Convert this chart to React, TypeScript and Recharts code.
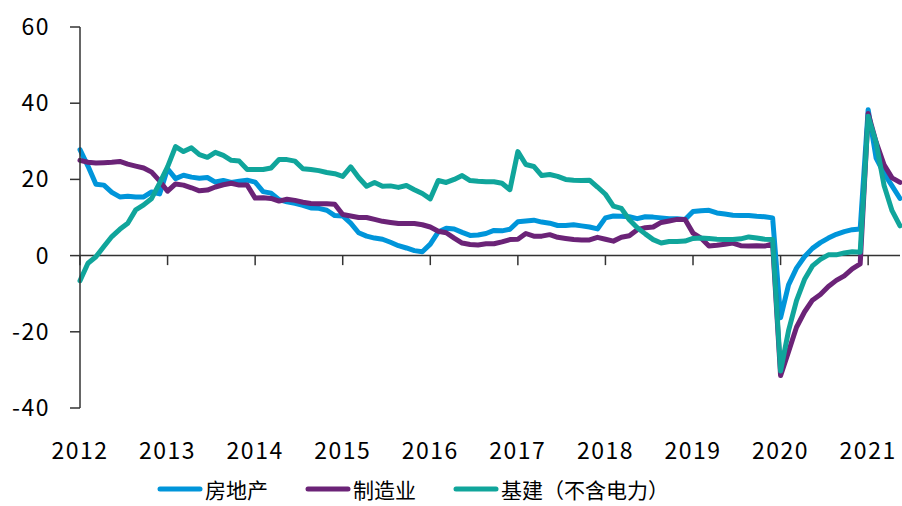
import React from "react";
import { LineChart, Line, XAxis, YAxis, ReferenceLine, Legend } from "recharts";

// cumulative yoy, Feb..Dec each year (Jan merged into Feb), 2012-02 .. 2021-06
const years = ["2012", "2013", "2014", "2015", "2016", "2017", "2018", "2019", "2020", "2021"];

const realEstate = [
  27.8, 23.5, 18.7, 18.5, 16.6, 15.4, 15.6, 15.4, 15.4, 16.7, 16.2,
  22.8, 20.2, 21.1, 20.6, 20.3, 20.5, 19.3, 19.7, 19.2, 19.5, 19.8,
  19.3, 16.8, 16.4, 14.7, 14.1, 13.7, 13.2, 12.5, 12.4, 11.9, 10.5,
  10.4, 8.5, 6.0, 5.1, 4.6, 4.3, 3.5, 2.6, 2.0, 1.3, 1.0,
  3.0, 6.2, 7.2, 7.0, 6.1, 5.3, 5.4, 5.8, 6.6, 6.5, 6.9,
  8.9, 9.1, 9.3, 8.8, 8.5, 7.9, 7.9, 8.1, 7.8, 7.5, 7.0,
  9.9, 10.4, 10.3, 10.2, 9.7, 10.2, 10.1, 9.9, 9.7, 9.7, 9.5,
  11.6, 11.8, 11.9, 11.2, 10.9, 10.6, 10.5, 10.5, 10.3, 10.2, 9.9,
  -16.3, -7.7, -3.3, -0.3, 1.9, 3.4, 4.6, 5.6, 6.3, 6.8, 7.0,
  38.3, 25.6, 21.6, 18.3, 15.0,
];

const manufacturing = [
  25.0, 24.5, 24.3, 24.4, 24.5, 24.7, 24.0, 23.5, 23.0, 21.9, 19.6,
  16.9, 18.8, 18.5, 17.8, 17.0, 17.2, 18.0, 18.6, 19.0, 18.5, 18.5,
  15.1, 15.2, 15.0, 14.3, 14.8, 14.5, 14.0, 13.7, 13.6, 13.6, 13.5,
  10.8, 10.4, 10.0, 10.0, 9.5, 9.0, 8.7, 8.4, 8.4, 8.4, 8.1,
  7.5, 6.4, 6.0, 4.6, 3.3, 2.9, 2.8, 3.1, 3.1, 3.6, 4.2,
  4.3, 5.8, 5.1, 5.1, 5.5, 4.8, 4.5, 4.2, 4.1, 4.1, 4.8,
  4.3, 3.8, 4.8, 5.2, 6.8, 7.3, 7.5, 8.7, 9.1, 9.5, 9.5,
  5.9, 4.6, 2.5, 2.7, 3.0, 3.3, 2.6, 2.5, 2.6, 2.5, 3.1,
  -31.5, -25.2, -18.8, -14.8, -11.7, -10.2, -8.1, -6.5, -5.3, -3.5, -2.2,
  37.3, 29.8, 23.8, 20.4, 19.2,
];

const infrastructure = [
  -6.6, -2.0, -0.3, 2.4, 5.0, 6.9, 8.5, 12.0, 13.3, 15.0, 19.0,
  23.3, 28.6, 27.3, 28.3, 26.5, 25.8, 27.1, 26.3, 25.0, 24.8, 22.6,
  22.6, 22.6, 23.0, 25.2, 25.2, 24.8, 22.8, 22.6, 22.3, 21.8, 21.5,
  20.8, 23.3, 20.5, 18.2, 19.2, 18.2, 18.3, 17.9, 18.4, 17.3, 16.3,
  14.9, 19.7, 19.2, 20.0, 21.0, 19.7, 19.5, 19.4, 19.4, 19.0, 17.3,
  27.3, 23.9, 23.4, 21.0, 21.3, 20.8, 20.0, 19.8, 19.7, 19.8, 18.0,
  16.1, 13.0, 12.4, 9.4, 7.3, 5.7, 4.2, 3.3, 3.7, 3.7, 3.8,
  4.5, 4.6, 4.5, 4.3, 4.2, 4.2, 4.4, 4.9, 4.6, 4.3, 4.2,
  -30.3, -19.7, -11.8, -6.3, -2.7, -1.0, 0.2, 0.2, 0.7, 1.0, 0.9,
  36.6, 29.7, 18.4, 11.8, 7.8,
];

const yTicks = [-40, -20, 0, 20, 40, 60];
const yearTicks = years.map((_, k) => k * 11);

const SERIES = [
  { key: "re", name: "房地产", color: "#0095DA" },
  { key: "mf", name: "制造业", color: "#6B2377" },
  { key: "inf", name: "基建（不含电力）", color: "#10A59B" },
];

const data = realEstate.map((v, i) => ({
  i,
  re: v,
  mf: manufacturing[i],
  inf: infrastructure[i],
}));

const FONT = '"Noto Sans CJK SC", "Noto Sans", sans-serif';

const XTick = (props: any) => {
  const { x, y, payload } = props;
  return (
    <text x={x} y={y + 51} textAnchor="middle" fontFamily={FONT} fontSize={23} fill="#000" letterSpacing={1.5}>
      {years[Math.round(payload.value / 11)]}
    </text>
  );
};

const YTick = (props: any) => {
  const { x, y, payload } = props;
  return (
    <text x={x} y={y + 8} textAnchor="end" fontFamily={FONT} fontSize={23} fill="#000" letterSpacing={1.5}>
      {payload.value}
    </text>
  );
};

const LegendBox = () => (
  <div style={{ display: "flex", alignItems: "center", paddingLeft: 156, paddingTop: 6, height: 34, fontFamily: FONT, fontSize: 21, lineHeight: "26px", color: "#000" }}>
    {SERIES.map((s) => (
      <div key={s.key} style={{ display: "flex", alignItems: "center", marginRight: 36 }}>
        <svg width={48} height={10}>
          <line x1={4} y1={5} x2={44} y2={5} stroke={s.color} strokeWidth={5} strokeLinecap="round" />
        </svg>
        <span style={{ marginLeft: 1, whiteSpace: "nowrap" }}>{s.name}</span>
      </div>
    ))}
  </div>
);

export default function App() {
  return (
    <div style={{ position: "absolute", left: 0, top: 0, background: "#fff" }}>
      <LineChart width={902} height={506} data={data} margin={{ top: 27, right: 2, left: 0, bottom: 0 }}>
        <XAxis
          type="number"
          dataKey="i"
          domain={[0, 103]}
          ticks={yearTicks}
          interval={0}
          axisLine={false}
          tickLine={false}
          tickSize={0}
          tickMargin={0}
          height={58}
          tick={<XTick />}
        />
        <YAxis
          domain={[-40, 60]}
          ticks={yTicks}
          interval={0}
          width={80}
          tickSize={10}
          tickMargin={20}
          axisLine={{ stroke: "#333", strokeWidth: 1.5 }}
          tickLine={{ stroke: "#333", strokeWidth: 1.5 }}
          tick={<YTick />}
        />
        <ReferenceLine y={0} stroke="#333" strokeWidth={1.5} />
        {yearTicks.map((t) => (
          <ReferenceLine
            key={t}
            segment={[
              { x: t, y: 0 },
              { x: t, y: -2.5 },
            ]}
            stroke="#333"
            strokeWidth={1.5}
          />
        ))}
        {SERIES.map((s) => (
          <Line
            key={s.key}
            type="linear"
            dataKey={s.key}
            name={s.name}
            stroke={s.color}
            strokeWidth={5}
            strokeLinejoin="round"
            strokeLinecap="round"
            dot={false}
            isAnimationActive={false}
          />
        ))}
        <Legend verticalAlign="bottom" height={40} wrapperStyle={{ left: 0, width: 902, bottom: 0 }} content={<LegendBox />} />
      </LineChart>
    </div>
  );
}
